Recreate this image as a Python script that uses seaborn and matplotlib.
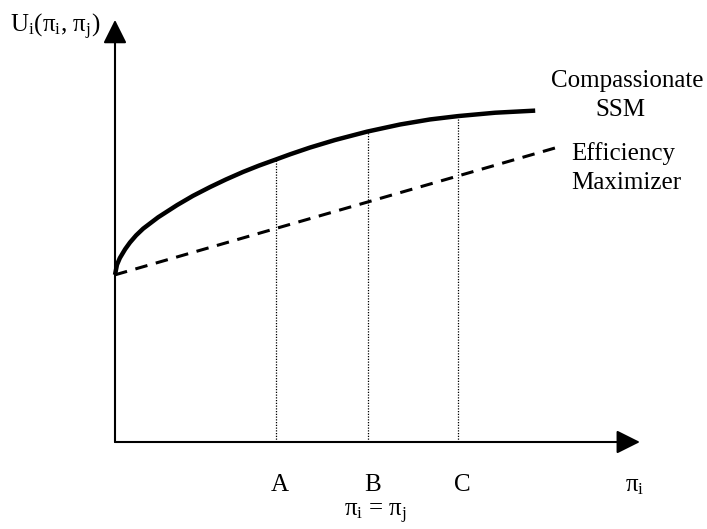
import matplotlib
matplotlib.use("Agg")
import matplotlib.pyplot as plt
import seaborn as sns
import numpy as np
import pandas as pd

# Data (diagram units: origin at the axes corner)
ssm_x = [0, 0.045, 0.11, 0.23, 0.34, 0.48, 0.64, 0.98, 1.41, 1.77, 2.16, 2.52,
         2.91, 3.27, 3.64, 3.98, 4.43, 5.0, 5.73, 6.48, 7.16, 7.8, 8.64, 9.55]
ssm_y = [3.98, 4.22, 4.38, 4.59, 4.75, 4.92, 5.08, 5.35, 5.64, 5.86, 6.07, 6.25,
         6.43, 6.58, 6.72, 6.85, 7.01, 7.19, 7.39, 7.56, 7.68, 7.76, 7.84, 7.89]
eff_x = [0, 10.0]
eff_y = [3.98, 7.0]
drop_labels = ["A", "B", "C"]
drop_x = [3.65, 5.75, 7.8]
x_axis_end = 11.93
y_axis_end = 10.05

sns.set_theme(style="white")
plt.rcParams['font.family'] = ['Liberation Serif', 'DejaVu Serif']
plt.rcParams['text.color'] = 'black'
plt.rcParams['mathtext.fontset'] = 'custom'
plt.rcParams['mathtext.rm'] = 'Liberation Serif'
plt.rcParams['mathtext.it'] = 'Liberation Serif:italic'

fig = plt.figure(figsize=(7.07, 5.29), dpi=100)
ax = fig.add_axes([0, 0, 1, 1])
ax.set_xlim(-115 / 44, 592 / 44)
ax.set_ylim(-87 / 42, 442 / 42)
ax.axis("off")

ssm = pd.DataFrame({"x": ssm_x, "y": ssm_y})
eff = pd.DataFrame({"x": eff_x, "y": eff_y})
sns.lineplot(data=ssm, x="x", y="y", ax=ax, color="black", lw=3.2,
             sort=False, solid_capstyle="butt", solid_joinstyle="round")
sns.lineplot(data=eff, x="x", y="y", ax=ax, color="black", lw=2.2,
             sort=False, dashes=False, linestyle=(0, (4.1, 2.84)))

# vertical drop lines up to the SSM curve
for lab, xv in zip(drop_labels, drop_x):
    top = np.interp(xv, ssm_x, ssm_y)
    ax.plot([xv, xv], [0, top], color="black", lw=0.9, linestyle=(0, (1, 1.2)))
    ax.text(xv + 0.1, -1.17, lab, fontsize=18, ha="center", va="baseline")

# axes with arrows
arrow = dict(arrowstyle="-|>,head_length=1,head_width=0.5", mutation_scale=14.4,
             lw=1.5, color="black", shrinkA=0, shrinkB=0)
ax.annotate("", xy=(0, y_axis_end), xytext=(0, 0), arrowprops=arrow)
ax.annotate("", xy=(x_axis_end, 0), xytext=(0, 0), arrowprops=arrow)

ax.text(-2.39, 9.76, r"U$_\mathrm{i}$(π$_\mathrm{i}$, π$_\mathrm{j}$)", fontsize=18,
        ha="left", va="baseline")
ax.text(11.59, -1.17, r"π$_\mathrm{i}$", fontsize=18, ha="left", va="baseline")
ax.text(5.93, -1.76, r"π$_\mathrm{i}$ = π$_\mathrm{j}$", fontsize=18,
        ha="center", va="baseline")

ax.text(11.64, 8.46, "Compassionate", fontsize=18, ha="center", va="baseline")
ax.text(11.48, 7.76, "SSM", fontsize=18, ha="center", va="baseline")
ax.text(10.36, 6.71, "Efficiency", fontsize=18, ha="left", va="baseline")
ax.text(10.36, 6.02, "Maximizer", fontsize=18, ha="left", va="baseline")

fig.savefig("out.png", dpi=100)
